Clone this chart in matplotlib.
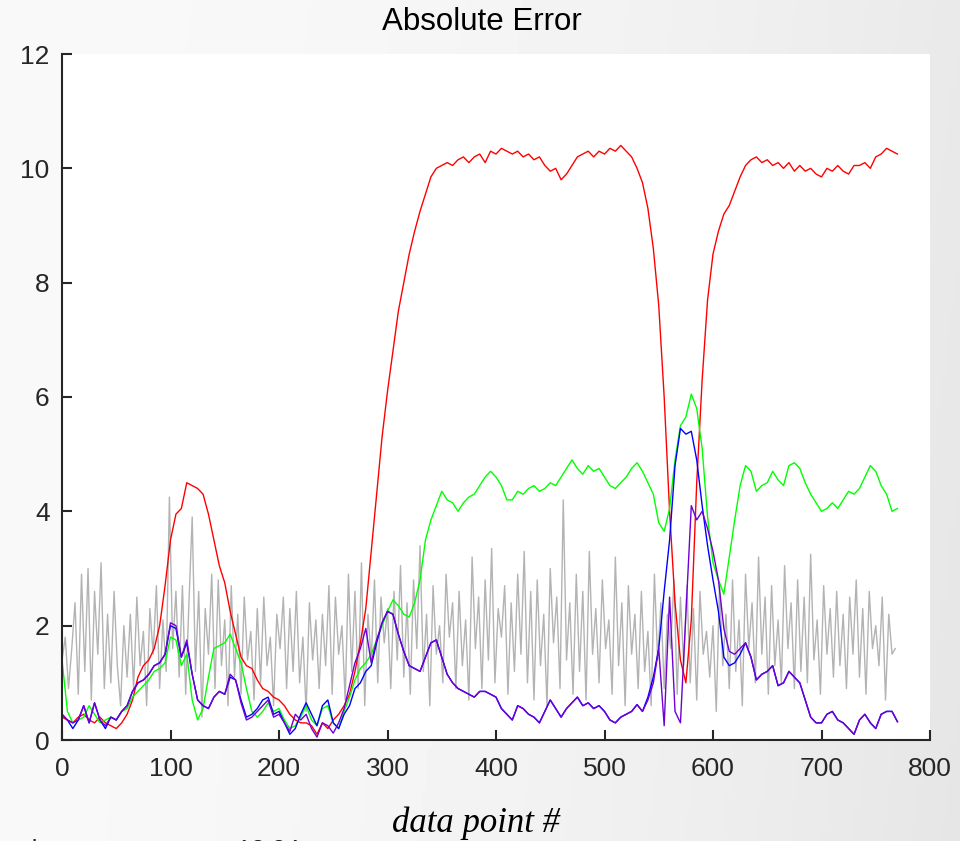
import numpy as np
import matplotlib
matplotlib.use("Agg")
import matplotlib.pyplot as plt

# shared x grid (step 5) for the smooth error curves
x5 = np.arange(0, 771, 5)

red = [0.4, 0.35, 0.3, 0.4, 0.45, 0.35, 0.3, 0.4, 0.3, 0.25,
       0.2, 0.3, 0.45, 0.7, 1.1, 1.3, 1.4, 1.6, 2.0, 2.7,
       3.5, 3.95, 4.05, 4.5, 4.45, 4.4, 4.3, 3.95, 3.5, 3.05,
       2.75, 2.25, 1.85, 1.45, 1.3, 1.25, 1.05, 0.9, 0.85, 0.75,
       0.7, 0.6, 0.45, 0.35, 0.3, 0.3, 0.25, 0.1, 0.3, 0.2,
       0.35, 0.45, 0.6, 0.8, 1.2, 1.7, 2.3, 3.3, 4.3, 5.3,
       6.1, 6.8, 7.5, 8.0, 8.5, 8.9, 9.25, 9.55, 9.85, 10.0,
       10.05, 10.1, 10.05, 10.15, 10.2, 10.1, 10.2, 10.25, 10.1, 10.3,
       10.25, 10.35, 10.3, 10.25, 10.3, 10.2, 10.25, 10.15, 10.2, 10.05,
       9.95, 10.0, 9.8, 9.9, 10.05, 10.2, 10.25, 10.3, 10.2, 10.3,
       10.25, 10.35, 10.3, 10.4, 10.3, 10.2, 10.0, 9.75, 9.3, 8.6,
       7.6, 6.0, 4.0, 2.4, 1.4, 1.0, 2.1, 4.5, 6.3, 7.7,
       8.5, 8.9, 9.2, 9.35, 9.6, 9.85, 10.05, 10.15, 10.2, 10.1,
       10.15, 10.05, 10.1, 10.0, 10.1, 9.95, 10.05, 9.95, 10.0, 9.9,
       9.85, 10.0, 9.95, 10.05, 9.95, 9.9, 10.05, 10.05, 10.1, 10.0,
       10.2, 10.25, 10.35, 10.3, 10.25]

green = [1.4, 0.5, 0.3, 0.35, 0.4, 0.6, 0.45, 0.3, 0.35, 0.4,
         0.35, 0.5, 0.55, 0.75, 0.85, 0.95, 1.05, 1.2, 1.25, 1.35,
         1.8, 1.75, 1.3, 1.5, 0.7, 0.35, 0.55, 1.1, 1.6, 1.65,
         1.7, 1.85, 1.6, 1.35, 0.9, 0.5, 0.4, 0.5, 0.65, 0.5,
         0.55, 0.35, 0.2, 0.25, 0.4, 0.6, 0.35, 0.25, 0.55, 0.6,
         0.3, 0.2, 0.5, 0.75, 1.05, 1.25, 1.35, 1.5, 1.75, 2.0,
         2.25, 2.45, 2.35, 2.2, 2.15, 2.4, 2.8, 3.5, 3.85, 4.1,
         4.35, 4.2, 4.15, 4.0, 4.15, 4.25, 4.3, 4.45, 4.6, 4.7,
         4.6, 4.45, 4.2, 4.2, 4.35, 4.3, 4.4, 4.45, 4.35, 4.4,
         4.5, 4.45, 4.6, 4.75, 4.9, 4.75, 4.65, 4.8, 4.7, 4.75,
         4.6, 4.45, 4.4, 4.5, 4.6, 4.75, 4.85, 4.7, 4.5, 4.3,
         3.8, 3.65, 4.05, 4.9, 5.5, 5.65, 6.05, 5.8, 5.1, 3.9,
         3.1, 2.8, 2.55, 3.2, 3.85, 4.45, 4.8, 4.7, 4.35, 4.45,
         4.5, 4.7, 4.55, 4.45, 4.8, 4.85, 4.75, 4.5, 4.3, 4.15,
         4.0, 4.05, 4.15, 4.05, 4.2, 4.35, 4.3, 4.4, 4.6, 4.8,
         4.7, 4.45, 4.3, 4.0, 4.05]

blue = [0.45, 0.35, 0.2, 0.35, 0.6, 0.3, 0.65, 0.35, 0.2, 0.4,
        0.35, 0.5, 0.6, 0.85, 1.0, 1.05, 1.15, 1.3, 1.35, 1.5,
        2.0, 1.95, 1.45, 1.7, 1.15, 0.7, 0.6, 0.55, 0.75, 0.85,
        0.8, 1.1, 1.05, 0.7, 0.4, 0.45, 0.55, 0.7, 0.75, 0.45,
        0.5, 0.3, 0.1, 0.2, 0.45, 0.65, 0.45, 0.25, 0.6, 0.7,
        0.3, 0.2, 0.45, 0.6, 0.9, 1.0, 1.2, 1.3, 1.7, 2.05,
        2.25, 2.2, 1.85, 1.55, 1.3, 1.25, 1.2, 1.45, 1.7, 1.75,
        1.45, 1.15, 1.0, 0.9, 0.85, 0.8, 0.75, 0.85, 0.85, 0.8,
        0.75, 0.55, 0.45, 0.35, 0.6, 0.55, 0.45, 0.4, 0.3, 0.5,
        0.7, 0.55, 0.4, 0.55, 0.65, 0.75, 0.6, 0.65, 0.55, 0.6,
        0.5, 0.35, 0.3, 0.4, 0.45, 0.5, 0.62, 0.5, 0.75, 1.1,
        1.6, 2.6, 3.5, 4.8, 5.45, 5.35, 5.4, 4.9, 4.1, 3.4,
        2.8, 2.25, 1.45, 1.3, 1.35, 1.5, 1.7, 1.45, 1.05, 1.15,
        1.2, 1.3, 0.95, 1.0, 1.2, 1.1, 1.0, 0.7, 0.4, 0.3,
        0.3, 0.45, 0.5, 0.35, 0.3, 0.2, 0.1, 0.35, 0.45, 0.3,
        0.2, 0.45, 0.5, 0.5, 0.32]

purple = [0.45, 0.35, 0.3, 0.35, 0.6, 0.3, 0.65, 0.35, 0.25, 0.4,
          0.35, 0.5, 0.6, 0.85, 1.0, 1.05, 1.15, 1.3, 1.35, 1.5,
          2.05, 2.0, 1.45, 1.75, 1.15, 0.7, 0.6, 0.55, 0.75, 0.85,
          0.8, 1.15, 1.05, 0.65, 0.35, 0.4, 0.5, 0.6, 0.7, 0.4,
          0.45, 0.3, 0.15, 0.45, 0.35, 0.45, 0.2, 0.05, 0.3, 0.25,
          0.12, 0.3, 0.55, 0.95, 1.35, 1.6, 1.95, 1.35, 1.75, 2.05,
          2.25, 2.2, 1.85, 1.55, 1.3, 1.25, 1.2, 1.45, 1.7, 1.75,
          1.45, 1.15, 1.0, 0.9, 0.85, 0.8, 0.75, 0.85, 0.85, 0.8,
          0.75, 0.55, 0.45, 0.35, 0.6, 0.55, 0.45, 0.4, 0.3, 0.5,
          0.7, 0.55, 0.4, 0.55, 0.65, 0.75, 0.6, 0.65, 0.55, 0.6,
          0.5, 0.35, 0.3, 0.4, 0.45, 0.5, 0.62, 0.5, 0.7, 1.0,
          1.6, 0.25, 2.5, 0.5, 0.3, 2.2, 4.1, 3.85, 4.0, 3.7,
          3.3, 2.8, 1.95, 1.55, 1.5, 1.6, 1.7, 1.45, 1.05, 1.15,
          1.2, 1.3, 0.95, 1.0, 1.2, 1.1, 1.0, 0.7, 0.4, 0.3,
          0.3, 0.45, 0.5, 0.35, 0.3, 0.2, 0.1, 0.35, 0.45, 0.3,
          0.2, 0.45, 0.5, 0.5, 0.32]

# noisy reference error, step 3
x3 = np.arange(0, 771, 3)
gray = [1.4, 1.8, 0.9, 1.6, 2.4, 0.8, 2.9, 1.2, 3.0, 0.7, 2.6, 1.5, 3.1, 0.9, 2.2, 1.0, 2.6, 1.3, 0.6, 2.0,
        1.1, 2.2, 0.9, 2.5, 1.3, 1.9, 0.6, 2.3, 1.5, 2.7, 0.9, 2.1, 1.2, 4.25, 1.6, 2.6, 1.1, 2.7, 0.8, 2.4,
        3.9, 1.2, 2.6, 0.4, 2.3, 1.5, 2.9, 0.9, 2.8, 1.3, 2.1, 0.6, 2.7, 1.1, 2.2, 0.8, 2.5, 1.4, 1.9, 0.7,
        2.3, 1.0, 2.5, 1.3, 1.8, 0.6, 2.2, 1.6, 2.5, 0.9, 2.3, 1.2, 2.6, 1.0, 1.8, 0.5, 2.4, 1.4, 2.1, 0.9,
        2.2, 1.3, 2.7, 0.8, 2.5, 1.5, 2.0, 0.7, 2.9, 1.2, 2.6, 0.9, 3.1, 0.6, 2.2, 1.4, 2.8, 1.0, 2.5, 1.7,
        2.3, 0.9, 2.6, 1.4, 3.05, 1.1, 2.4, 0.8, 2.8, 1.6, 3.4, 1.2, 2.2, 0.6, 2.7, 1.5, 2.0, 1.0, 2.9, 1.8,
        2.4, 0.9, 2.6, 1.3, 2.1, 0.7, 3.2, 1.6, 2.5, 0.9, 2.8, 1.4, 3.35, 1.0, 2.3, 1.8, 2.7, 0.8, 2.4, 1.2,
        2.9, 1.5, 3.3, 1.0, 2.6, 0.7, 2.8, 1.3, 2.2, 0.6, 3.0, 1.7, 2.5, 0.9, 4.2, 1.4, 2.4, 0.8, 2.9, 1.2,
        2.6, 0.7, 3.3, 1.5, 2.3, 1.0, 2.8, 1.6, 2.1, 0.8, 3.2, 1.3, 2.4, 0.6, 2.7, 1.5, 2.2, 0.9, 2.6, 1.2,
        1.9, 0.6, 2.9, 1.4, 2.4, 0.9, 2.2, 1.6, 2.8, 0.8, 2.5, 1.3, 2.7, 1.0, 2.3, 0.7, 2.6, 1.5, 1.9, 1.1,
        2.0, 0.5, 2.7, 1.3, 2.2, 0.9, 2.8, 1.2, 2.1, 0.6, 2.9, 1.6, 2.4, 1.0, 3.2, 1.5, 2.5, 0.8, 2.7, 1.3,
        2.1, 1.0, 3.05, 1.6, 2.4, 0.9, 2.8, 1.2, 2.5, 1.0, 3.25, 1.4, 2.1, 0.8, 2.7, 1.5, 2.3, 1.1, 2.6, 1.3,
        2.2, 0.9, 2.5, 1.5, 2.8, 1.1, 2.3, 0.8, 2.6, 1.6, 2.0, 1.3, 2.5, 0.7, 2.2, 1.5, 1.6]

x_ticks = [0, 100, 200, 300, 400, 500, 600, 700, 800]
y_ticks = [0, 2, 4, 6, 8, 10, 12]


fig = plt.figure(figsize=(9.6, 8.41), dpi=100)

# light grey gradient behind everything, like the MATLAB figure window
bg = fig.add_axes([0, 0, 1, 1], zorder=-10)
gx = np.linspace(0, 1, 200)
gy = np.linspace(0, 1, 200)
GX, GY = np.meshgrid(gx, gy)
shade = 0.975 - 0.06 * GX ** 2 - 0.015 * GY * GX
bg.imshow(shade, cmap='gray', vmin=0, vmax=1, aspect='auto',
          extent=[0, 1, 0, 1], origin='upper')
bg.axis('off')

ax = fig.add_axes([62 / 960, 1 - 740 / 841, 868 / 960, 686 / 841])
ax.set_facecolor('white')

ax.plot(x3, gray, color='#b3b3b3', lw=1.0)
ax.plot(x5, red, color='#ff0000', lw=1.0)
ax.plot(x5, green, color='#00ff00', lw=1.0)
ax.plot(x5, blue, color='#0000ff', lw=1.0)
ax.plot(x5, purple, color='#7000d4', lw=1.0)

ax.set_xlim(0, 800)
ax.set_ylim(0, 12)
ax.set_xticks(x_ticks)
ax.set_yticks(y_ticks)
ax.spines['top'].set_visible(False)
ax.spines['right'].set_visible(False)
for s in ['left', 'bottom']:
    ax.spines[s].set_linewidth(1.5)
    ax.spines[s].set_color('#262626')
ax.tick_params(direction='in', length=7, width=1.5, color='#262626',
               labelsize=19, labelcolor='#262626')
ax.tick_params(axis='x', pad=12)
ax.tick_params(axis='y', pad=9)
for lab in ax.get_xticklabels() + ax.get_yticklabels():
    lab.set_fontfamily('Liberation Sans')

fig.text(482 / 960, 1 - 22 / 841, 'Absolute Error', ha='center', va='center',
         fontsize=22.5, family='Liberation Sans', color='black')
fig.text(476 / 960, 1 - 832 / 841, 'data point #', ha='center', va='baseline',
         fontsize=25, family='Liberation Serif', style='italic', color='black')
# partly cut off line of text at the very bottom
fig.text(18 / 960, -17 / 841, 'abs. mean error  =  13.24', ha='left', va='baseline',
         fontsize=18, family='Liberation Sans', color='#222222')

fig.savefig('out.png', dpi=100)
